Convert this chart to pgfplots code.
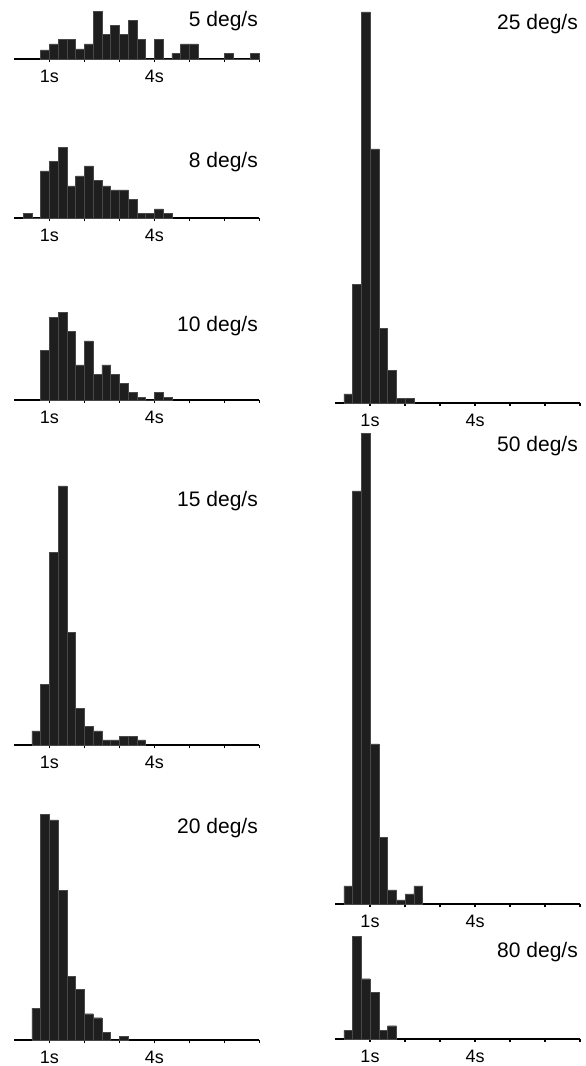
\documentclass[border=0pt]{standalone}
\usepackage{fontspec}
\setmainfont{Liberation Sans}
\usepackage{pgfplots}
\pgfplotsset{compat=1.18}

\definecolor{barfill}{RGB}{30,30,30}
\definecolor{bargap}{RGB}{72,72,72}

\newcommand{\lab}{\fontsize{21}{25}\selectfont}
\newcommand{\tl}{\fontsize{18}{21}\selectfont}

% one histogram panel: 0.25 s bins, 35pt per second, heights in px of the original
\pgfplotsset{
  histo/.style={
    x=35pt, y=1pt, xmin=0, xmax=7, ymin=0,
    anchor=south west, clip=false,
    axis x line=bottom, axis y line=none,
    axis line style={-, line width=2.2pt, black},
    xtick={1,2,3,4,5,6,7}, xticklabels={1s,,,4s,,,},
    tick align=outside, major tick length=3pt,
    tick style={line width=1.3pt, black},
    ytick=\empty,
    xticklabel style={font=\tl, inner sep=0pt, yshift=-8pt},
  },
  bars/.style={ybar interval, fill=barfill, draw=bargap, line width=0.4pt},
}

\begin{document}
\begin{tikzpicture}
\useasboundingbox (0,0) rectangle (586pt,1066pt);

% ---- left column ----
% 5 deg/s
\begin{axis}[histo, at={(14.3pt,1006.7pt)}, ymax=48]
\addplot[bars] coordinates {
 (0.75,9.3) (1.0,15.3) (1.25,19.7) (1.5,19.7) (1.75,10.3) (2.0,15.3)
 (2.25,47.7) (2.5,25) (2.75,33.7) (3.0,25) (3.25,38.7) (3.5,19.7)
 (3.75,0) (4.0,19.7) (4.25,0) (4.5,5.7) (4.75,15.3) (5.0,15.3)
 (5.25,0) (6.0,5.7) (6.25,0) (6.75,5.7) (7.0,0)};
\end{axis}

% 8 deg/s
\begin{axis}[histo, at={(14.3pt,847.7pt)}, ymax=71]
\addplot[bars] coordinates {
 (0.25,5) (0.5,0) (0.75,47.3) (1.0,56.7) (1.25,71) (1.5,32.3) (1.75,42.3)
 (2.0,52.3) (2.25,37.7) (2.5,32.3) (2.75,28.3) (3.0,28.3) (3.25,19)
 (3.5,5) (3.75,5) (4.0,9.3) (4.25,5) (4.5,0)};
\end{axis}

% 10 deg/s
\begin{axis}[histo, at={(14.3pt,666pt)}, ymax=87.3]
\addplot[bars] coordinates {
 (0.75,49.3) (1.0,82.7) (1.25,87.3) (1.5,68.3) (1.75,35) (2.0,59)
 (2.25,25.7) (2.5,35) (2.75,25.7) (3.0,16.7) (3.25,7.3) (3.5,2.3)
 (3.75,0) (4.0,7.3) (4.25,2.3) (4.5,0)};
\end{axis}

% 15 deg/s
\begin{axis}[histo, at={(14.3pt,320.7pt)}, ymax=259.3]
\addplot[bars] coordinates {
 (0.5,14.3) (0.75,61) (1.0,192.7) (1.25,259.3) (1.5,113) (1.75,37)
 (2.0,18.7) (2.25,14.3) (2.5,5.3) (2.75,5.3) (3.0,8.7) (3.25,8.7)
 (3.5,5.3) (3.75,0)};
\end{axis}

% 20 deg/s
\begin{axis}[histo, at={(14.3pt,26pt)}, ymax=225.7]
\addplot[bars] coordinates {
 (0.5,31.7) (0.75,225.7) (1.0,220) (1.25,149.7) (1.5,64) (1.75,50.7)
 (2.0,26.3) (2.25,22.3) (2.5,8) (2.75,0) (3.0,4) (3.25,0)};
\end{axis}

% ---- right column ----
% 25 deg/s
\begin{axis}[histo, at={(335pt,663pt)}, ymax=391]
\addplot[bars] coordinates {
 (0.25,9) (0.5,118.3) (0.75,391) (1.0,254) (1.25,74.3) (1.5,32.7)
 (1.75,4.3) (2.0,4.3) (2.25,0)};
\end{axis}

% 50 deg/s
\begin{axis}[histo, at={(335pt,161.7pt)}, ymax=471]
\addplot[bars] coordinates {
 (0.25,18.3) (0.5,413.3) (0.75,471) (1.0,160.3) (1.25,66.7) (1.5,14.3)
 (1.75,4.3) (2.0,10.3) (2.25,18.3) (2.5,0)};
\end{axis}

% 80 deg/s
\begin{axis}[histo, at={(335pt,27pt)}, ymax=102.7]
\addplot[bars] coordinates {
 (0.25,8.7) (0.5,102.7) (0.75,60.3) (1.0,46.7) (1.25,8.7) (1.5,13.3)
 (1.75,0)};
\end{axis}

% panel titles
\node[anchor=base east, inner sep=0pt] at (258pt,1039.3pt) {\lab 5 deg/s};
\node[anchor=base east, inner sep=0pt] at (258pt,898.7pt) {\lab 8 deg/s};
\node[anchor=base east, inner sep=0pt] at (258pt,734.3pt) {\lab 10 deg/s};
\node[anchor=base east, inner sep=0pt] at (258pt,559.3pt) {\lab 15 deg/s};
\node[anchor=base east, inner sep=0pt] at (258pt,232.7pt) {\lab 20 deg/s};
\node[anchor=base east, inner sep=0pt] at (578pt,1036.7pt) {\lab 25 deg/s};
\node[anchor=base east, inner sep=0pt] at (578pt,614.3pt) {\lab 50 deg/s};
\node[anchor=base east, inner sep=0pt] at (578pt,108.7pt) {\lab 80 deg/s};
\end{tikzpicture}
\end{document}
